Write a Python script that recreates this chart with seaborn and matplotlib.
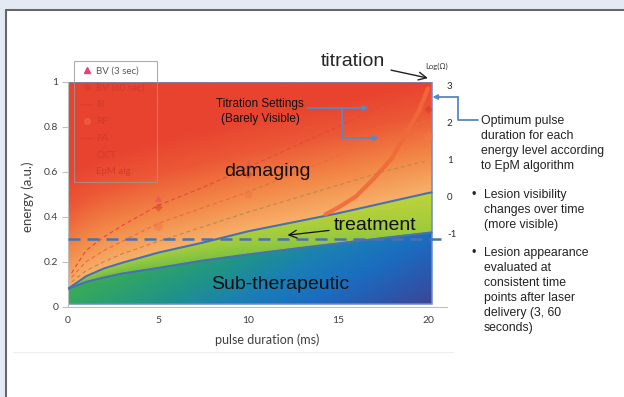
import numpy as np
import matplotlib
matplotlib.use("Agg")
import matplotlib.pyplot as plt
import seaborn as sns
from matplotlib.colors import LinearSegmentedColormap
from matplotlib.lines import Line2D
from matplotlib.patches import Rectangle

# zone boundaries: pulse duration (ms) -> energy (a.u.)
bound_ms = [0, 1, 2, 3, 5, 7.5, 10, 12.5, 15, 17.5, 20, 20.2]
lower_energy = [0.08, 0.11, 0.13, 0.147, 0.172, 0.205, 0.232, 0.257, 0.281, 0.305, 0.328, 0.33]
upper_energy = [0.08, 0.135, 0.17, 0.195, 0.24, 0.285, 0.335, 0.375, 0.415, 0.46, 0.505, 0.508]

# dashed fits for barely-visible thresholds
fit_ms = [0.2, 1, 2, 3, 5, 7.5, 10, 12.5, 15, 17.5, 20]
fit_bv3 = [0.15, 0.25, 0.31, 0.36, 0.45, 0.53, 0.62, 0.71, 0.80, 0.895, 0.99]
fit_bv60 = [0.13, 0.20, 0.25, 0.29, 0.37, 0.44, 0.51, 0.59, 0.67, 0.75, 0.83]
fit_rf = [0.11, 0.16, 0.20, 0.235, 0.29, 0.355, 0.42, 0.48, 0.54, 0.60, 0.65]

# EpM algorithm curve
epm_ms = [14.3, 15, 16, 17, 18, 19, 19.5, 20]
epm_energy = [0.41, 0.44, 0.49, 0.57, 0.66, 0.80, 0.87, 0.97]

# observed titration points
obs_ms = [5, 10, 20]
bv3_obs = [0.485, 0.635, 0.96]
bv60_obs = [0.445, 0.59, 0.88]
rf_obs = [0.36, 0.50, 0.76]

legend_labels = ["BV (3 sec)", "BV (60 sec)", "IR", "RF", "FA", "OCT", "EpM alg."]
x_ticks = [0, 5, 10, 15, 20]
y_ticks = [0, 0.2, 0.4, 0.6, 0.8, 1]
y_ticklabels = ["0", "0.2", "0.4", "0.6", "0.8", "1"]
log_ticks = [-1, 0, 1, 2, 3]
visibility_energy = 0.3

sns.set_theme(style="white")
plt.rcParams["font.family"] = ["Lato", "DejaVu Sans"]
ARIAL = ["Liberation Sans", "DejaVu Sans"]

W, H = 624, 397
fig = plt.figure(figsize=(W / 100, H / 100), dpi=100, facecolor="#e4eaf3")


def fp(x, y):
    return x / W, 1 - y / H


# page frame
fig.patches.append(Rectangle(fp(6, H), 1, 1 - 10 / H, transform=fig.transFigure,
                             fc="white", ec="none", zorder=-10))
fig.lines.append(Line2D([5.5 / W, 1], [1 - 10 / H] * 2, transform=fig.transFigure,
                        color="#666666", lw=1.5))
fig.lines.append(Line2D([5.5 / W] * 2, [0, 1 - 10 / H], transform=fig.transFigure,
                        color="#666666", lw=1.5))
fig.lines.append(Line2D([13 / W, 453 / W], [1 - 352 / H] * 2, transform=fig.transFigure,
                        color="#eeeeee", lw=0.8))

ax = fig.add_axes([68 / W, 1 - 306.7 / H, 379 / W, 225 / H])
ax.set_facecolor("none")

# gradient zones
xs = np.linspace(0, 20.2, 500)
es = np.linspace(0.01, 1, 400)
X, E = np.meshgrid(xs, es)
lo = np.interp(X, bound_ms, lower_energy)
up = np.interp(X, bound_ms, upper_energy)
cm_dmg = LinearSegmentedColormap.from_list("dmg", [(0, "#f7b06a"), (0.35, "#f28646"),
                                                   (0.7, "#ec5836"), (1, "#e8432f")])
cm_trt = LinearSegmentedColormap.from_list("trt", ["#68bc46", "#9cca3d", "#bfd33a"])
cm_sub = LinearSegmentedColormap.from_list("sub", [(0, "#4db24f"), (0.25, "#36a95d"),
                                                   (0.45, "#1f9488"), (0.6, "#1a7fb5"),
                                                   (0.75, "#1b6cc0"), (0.9, "#2d55aa"),
                                                   (1, "#3d4796")])
dmg = cm_dmg(np.clip((E - up) / 0.5, 0, 1))
trt = cm_trt(np.clip(0.5 * (E - lo) / (up - lo + 1e-9) + 0.5 * X / 20, 0, 1))
sub = cm_sub(np.clip(0.72 * X / 20 + 0.28 * (0.33 - E) / 0.33, 0, 1))
rgb = np.where((E >= up)[..., None], dmg, np.where((E >= lo)[..., None], trt, sub))
ax.imshow(rgb, extent=(0, 20.2, 0.01, 1), origin="lower", aspect="auto",
          interpolation="bilinear", zorder=1)
ax.add_patch(Rectangle((0, 0.01), 20.2, 0.99, fill=False, ec="#6d8cc2", lw=1.1, zorder=2))

# boundaries
sns.lineplot(x=bound_ms, y=lower_energy, ax=ax, color="#4a6fb3", lw=1.5, zorder=3)
sns.lineplot(x=bound_ms, y=upper_energy, ax=ax, color="#4a6fb3", lw=1.5, zorder=3)

# fitted thresholds
sns.lineplot(x=fit_ms, y=fit_bv3, ax=ax, color="#e2493a", lw=0.8,
             linestyle=(0, (3.6, 2.7)), zorder=3)
sns.lineplot(x=fit_ms, y=fit_bv60, ax=ax, color="#ea6c3e", lw=0.8,
             linestyle=(0, (3.6, 2.7)), zorder=3)
sns.lineplot(x=fit_ms, y=fit_rf, ax=ax, color="#b98a4c", lw=0.8,
             linestyle=(0, (3.6, 2.7)), zorder=3)

# observations (faint)
sns.scatterplot(x=obs_ms, y=bv3_obs, ax=ax, marker="^", s=28, color="#e64a6a",
                alpha=0.55, linewidth=0, zorder=3)
sns.scatterplot(x=obs_ms, y=bv60_obs, ax=ax, marker="D", s=18, color="#d63a30",
                alpha=0.55, linewidth=0, zorder=3)
sns.scatterplot(x=obs_ms, y=rf_obs, ax=ax, marker="o", s=40, color="#f07a48",
                alpha=0.6, linewidth=0, zorder=3)

# EpM curve
sns.lineplot(x=epm_ms, y=epm_energy, ax=ax, color="#f06a3a", lw=3, alpha=0.9, zorder=3)

# visibility threshold
ax.plot([0, 21.1], [visibility_energy] * 2, color="#4a72b0", lw=1.8,
        linestyle=(0, (4.8, 2.8)), clip_on=False, zorder=4)

ax.set_xlim(0, 21.06)
ax.set_ylim(0, 1)
ax.set_xticks(x_ticks)
ax.set_yticks(y_ticks)
ax.set_yticklabels(y_ticklabels)
ax.tick_params(axis="both", direction="out", length=4, width=0.8, color="#bfbfbf",
               labelsize=7.5, labelcolor="#404040", pad=3)
for s in ["top", "right"]:
    ax.spines[s].set_visible(False)
for s in ["left", "bottom"]:
    ax.spines[s].set_color("#bfbfbf")
    ax.spines[s].set_linewidth(0.8)
ax.set_xlabel("pulse duration (ms)", fontsize=9, color="#404040")
ax.xaxis.set_label_coords(0.525, -0.118)
ax.set_ylabel("energy (a.u.)", fontsize=9.5, color="#404040")
ax.yaxis.set_label_coords(-0.09, 0.49)

ax2 = ax.twinx()
ax2.set_ylim(-2.99, 3.09)
ax2.set_yticks(log_ticks)
ax2.set_yticklabels([str(t) for t in log_ticks])
ax2.tick_params(axis="y", length=0, pad=0, labelsize=7, labelcolor="#2a2a2a")
for s in ax2.spines.values():
    s.set_visible(False)
ax2.grid(False)

# legend
handles = [
    Line2D([], [], marker="^", ls="none", color="#e6407a", ms=4.5),
    Line2D([], [], marker="D", ls="none", color="#cc3a2c", ms=3, alpha=0.35),
    Line2D([], [], ls="-", color="#cc3a2c", lw=0.8, alpha=0.35),
    Line2D([], [], marker="o", ls="none", color="#f07a48", ms=4, alpha=0.4),
    Line2D([], [], ls="-", color="#cc3a2c", lw=0.8, alpha=0.35),
    Line2D([], [], ls="none", color="#cc3a2c"),
    Line2D([], [], ls="none", color="#cc3a2c"),
]
leg = ax.legend(handles, legend_labels, loc="upper left", mode="expand",
                bbox_to_anchor=(74 / W, 1 - 183 / H, 83 / W, 122 / H),
                bbox_transform=fig.transFigure, fontsize=7, frameon=True,
                borderpad=0.6, handlelength=1.4, handletextpad=0.3,
                labelspacing=0.8, borderaxespad=0, fancybox=False)
leg.get_frame().set_facecolor("none")
leg.get_frame().set_edgecolor((0.6, 0.6, 0.6, 0.35))
leg.get_frame().set_linewidth(0.8)
for i, t in enumerate(leg.get_texts()):
    t.set_color("#595959" if i == 0 else "#d13b2b")

# annotations
fig.text(*fp(437, 66), "Log(Ω)", fontsize=5.5, ha="center", va="center", color="#333333")
ax.annotate("titration", xy=(20.0, 1.016), xytext=(15.83, 1.088), fontsize=14,
            family=ARIAL, ha="center", va="center", annotation_clip=False,
            arrowprops=dict(arrowstyle="->", color="#222222", lw=1, shrinkB=0))
ax.text(10.67, 0.868, "Titration Settings\n(Barely Visible)", fontsize=8.5, family=ARIAL,
        ha="center", va="center", linespacing=1.4, color="#111111", zorder=5)
ax.text(11.1, 0.6, "damaging", fontsize=14, family=ARIAL, ha="center", va="center",
        color="#111111", zorder=5)
ax.annotate("treatment", xy=(12.2, 0.318), xytext=(17.06, 0.362), fontsize=14,
            family=ARIAL, ha="center", va="center", color="#111111", zorder=5,
            arrowprops=dict(arrowstyle="->", color="#111111", lw=0.9, shrinkA=1, shrinkB=0))
ax.text(11.8, 0.1, "Sub-therapeutic", fontsize=14, family=ARIAL, ha="center",
        va="center", color="#111111", zorder=5)

# blue connectors
blue = "#5a87c5"
ax.annotate("", xy=(16.7, 0.883), xytext=(13.3, 0.883), zorder=5,
            arrowprops=dict(arrowstyle="-|>", color=blue, lw=1.3, shrinkA=0, shrinkB=0,
                            mutation_scale=7))
ax.plot([15.22, 15.22], [0.883, 0.75], color=blue, lw=1.3, zorder=5)
ax.annotate("", xy=(17.25, 0.75), xytext=(15.22, 0.75), zorder=5,
            arrowprops=dict(arrowstyle="-|>", color=blue, lw=1.3, shrinkA=0, shrinkB=0,
                            mutation_scale=7))
ax.plot([22.8, 21.67, 21.67], [0.83, 0.83, 0.932], color=blue, lw=1.3, clip_on=False, zorder=5)
ax.annotate("", xy=(20.25, 0.932), xytext=(21.67, 0.932), annotation_clip=False, zorder=5,
            arrowprops=dict(arrowstyle="-|>", color=blue, lw=1.3, shrinkA=0, shrinkB=0,
                            mutation_scale=7))

# right-hand notes
note_kw = dict(fontsize=8.8, family=ARIAL, ha="left", va="top", linespacing=1.34,
               color="#222222")
fig.text(*fp(481, 115), "Optimum pulse\nduration for each\nenergy level according\nto EpM algorithm",
         **note_kw)
fig.text(*fp(471, 189), "•", **note_kw)
fig.text(*fp(484, 189), "Lesion visibility\nchanges over time\n(more visible)", **note_kw)
fig.text(*fp(471, 247), "•", **note_kw)
fig.text(*fp(484, 247), "Lesion appearance\nevaluated at\nconsistent time\npoints after laser\ndelivery (3, 60\nseconds)",
         **note_kw)

fig.savefig("out.png", dpi=100, facecolor=fig.get_facecolor())
